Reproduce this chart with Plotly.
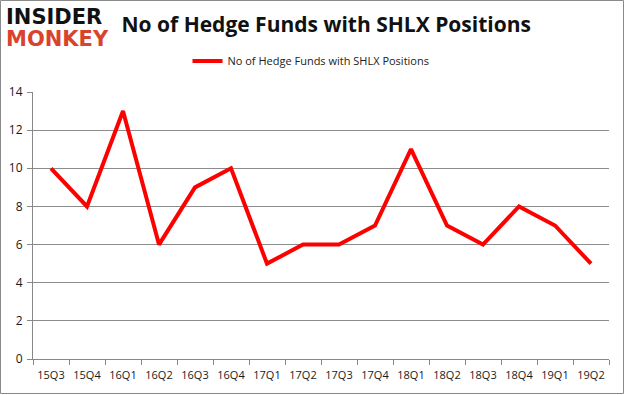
import plotly.graph_objects as go

quarters = ["15Q3", "15Q4", "16Q1", "16Q2", "16Q3", "16Q4", "17Q1", "17Q2",
            "17Q3", "17Q4", "18Q1", "18Q2", "18Q3", "18Q4", "19Q1", "19Q2"]
funds = [10, 8, 13, 6, 9, 10, 5, 6, 6, 7, 11, 7, 6, 8, 7, 5]
series_name = "No of Hedge Funds with SHLX Positions"
y_ticks = [0, 2, 4, 6, 8, 10, 12, 14]

W, H = 625, 395
L, R, T, B = 33, 16, 92, 36
pw, ph = W - L - R, H - T - B

fig = go.Figure()
fig.add_trace(go.Scatter(
    x=quarters, y=funds, mode="lines", name=series_name,
    line=dict(color="#ff0000", width=4),
))

fig.update_layout(
    width=W, height=H,
    margin=dict(l=L, r=R, t=T, b=B, autoexpand=False),
    paper_bgcolor="white", plot_bgcolor="white",
    font=dict(family="Open Sans, Liberation Sans, sans-serif", size=11, color="#1a1a1a"),
    showlegend=True,
    legend=dict(orientation="h", x=0.5 - 10 / pw, xanchor="center", y=1 + (T - 61) / ph,
                yanchor="middle", font=dict(size=11, color="#222")),
    xaxis=dict(type="category", range=[-0.5, len(quarters) - 0.5], showgrid=False,
               showline=True, linecolor="#888", tickangle=0,
               ticks="outside", tickson="boundaries", ticklen=5, tickcolor="#888",
               tickfont=dict(size=11), ticklabelstandoff=6),
    yaxis=dict(range=[0, 14], tickvals=y_ticks, showgrid=True, gridcolor="#8c8c8c",
               gridwidth=1, showline=True, linecolor="#888", ticks="outside",
               ticklen=5, tickcolor="#888", tickfont=dict(size=12), zeroline=False,
               ticklabelstandoff=2),
    title=dict(text="<b>No of Hedge Funds with SHLX Positions</b>", x=0.522, xanchor="center",
               y=1 - 25 / H, yanchor="middle",
               font=dict(size=21, family="Open Sans, Liberation Sans, sans-serif", color="#111")),
)

# logo
fig.add_annotation(text="<b>INSIDER</b>", xref="paper", yref="paper",
                   x=-(L - 4) / pw, y=1 + (T - 17) / ph, xanchor="left", yanchor="middle",
                   showarrow=False, font=dict(size=21, color="#111", family="DejaVu Sans, sans-serif"))
fig.add_annotation(text="<b>MONKEY</b>", xref="paper", yref="paper",
                   x=-(L - 4) / pw, y=1 + (T - 39) / ph, xanchor="left", yanchor="middle",
                   showarrow=False, font=dict(size=21, color="#d9432d", family="DejaVu Sans, sans-serif"))

# outer border
fig.add_shape(type="rect", xref="paper", yref="paper",
              x0=-(L - 0.5) / pw, x1=1 + (R - 1.5) / pw,
              y0=-(B - 1.5) / ph, y1=1 + (T - 0.5) / ph,
              line=dict(color="#8a8a8a", width=1), fillcolor="rgba(0,0,0,0)", layer="below")

fig.write_html("out.html", config={"displayModeBar": False},
               post_script="document.body.style.margin='0';")
